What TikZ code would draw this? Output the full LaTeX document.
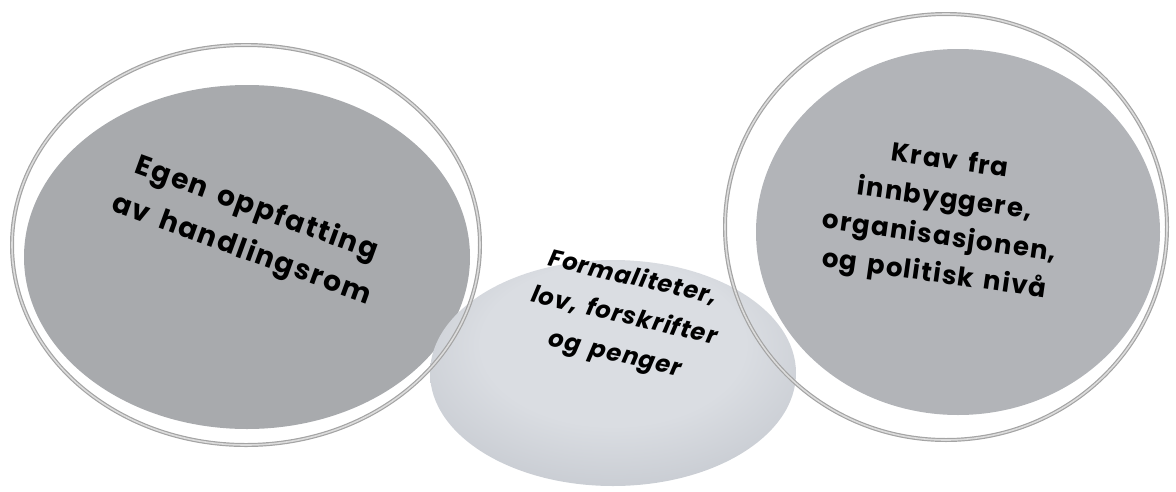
\documentclass[tikz,border=0pt]{standalone}
\usepackage{fontspec}
\setmainfont{Poppins}[WordSpace=1.5]
\usetikzlibrary{shapes.geometric}

\definecolor{leftgray}{HTML}{A8AAAD}
\definecolor{rightgray}{HTML}{B2B4B8}
\definecolor{ringgray}{HTML}{A4A4A4}
\definecolor{ringlight}{HTML}{DCDCDC}
\definecolor{midlight}{HTML}{DADDE2}
\definecolor{midbase}{HTML}{C0C4CB}
\definecolor{middark}{HTML}{8A8F98}

\pgfdeclareradialshading{midshade}{\pgfpoint{0bp}{10bp}}{color(0bp)=(midlight); color(18bp)=(midlight); color(36bp)=(midbase); color(43bp)=(midbase); color(50bp)=(middark)}

\begin{document}
\begin{tikzpicture}[x=1pt, y=-1pt, font=\bfseries,
  disc/.style={ellipse, inner sep=0pt},
  ring/.style={ellipse, inner sep=0pt, draw=ringgray, double=ringlight, double distance=1.6pt, line width=1.2pt},
  lbl/.style={align=center, inner sep=0pt}]

\useasboundingbox (0,0) rectangle (1176,491);

% discs
\node (lfill) [disc, fill=leftgray, minimum width=446pt, minimum height=344pt] at (247,257) {};
\node (rfill) [disc, fill=rightgray, minimum width=404pt, minimum height=366pt] at (958,232) {};
\node (mid) [disc, shading=midshade, minimum width=366pt, minimum height=226pt] at (613,373) {};

% rings
\node (lring) [ring, minimum width=468pt, minimum height=400pt] at (246,245) {};
\node (rring) [ring, minimum width=442pt, minimum height=426pt] at (946,227) {};

% texts
\node (ltext) [lbl, rotate=-20, font=\fontsize{28}{44}\bfseries\addfontfeatures{LetterSpace=6}] at (249,230) {Egen oppfatting\\av handlingsrom};
\node (mtext) [lbl, rotate=-13, font=\fontsize{24}{39}\bfseries\itshape\addfontfeatures{LetterSpace=4}] at (624,317) {Formaliteter,\\lov, forskrifter\\og penger};
\node (rtext) [lbl, rotate=-8, font=\fontsize{26}{38}\bfseries\addfontfeatures{LetterSpace=5}] at (942,219) {Krav fra\\innbyggere,\\organisasjonen,\\og politisk nivå};

\end{tikzpicture}
\end{document}
